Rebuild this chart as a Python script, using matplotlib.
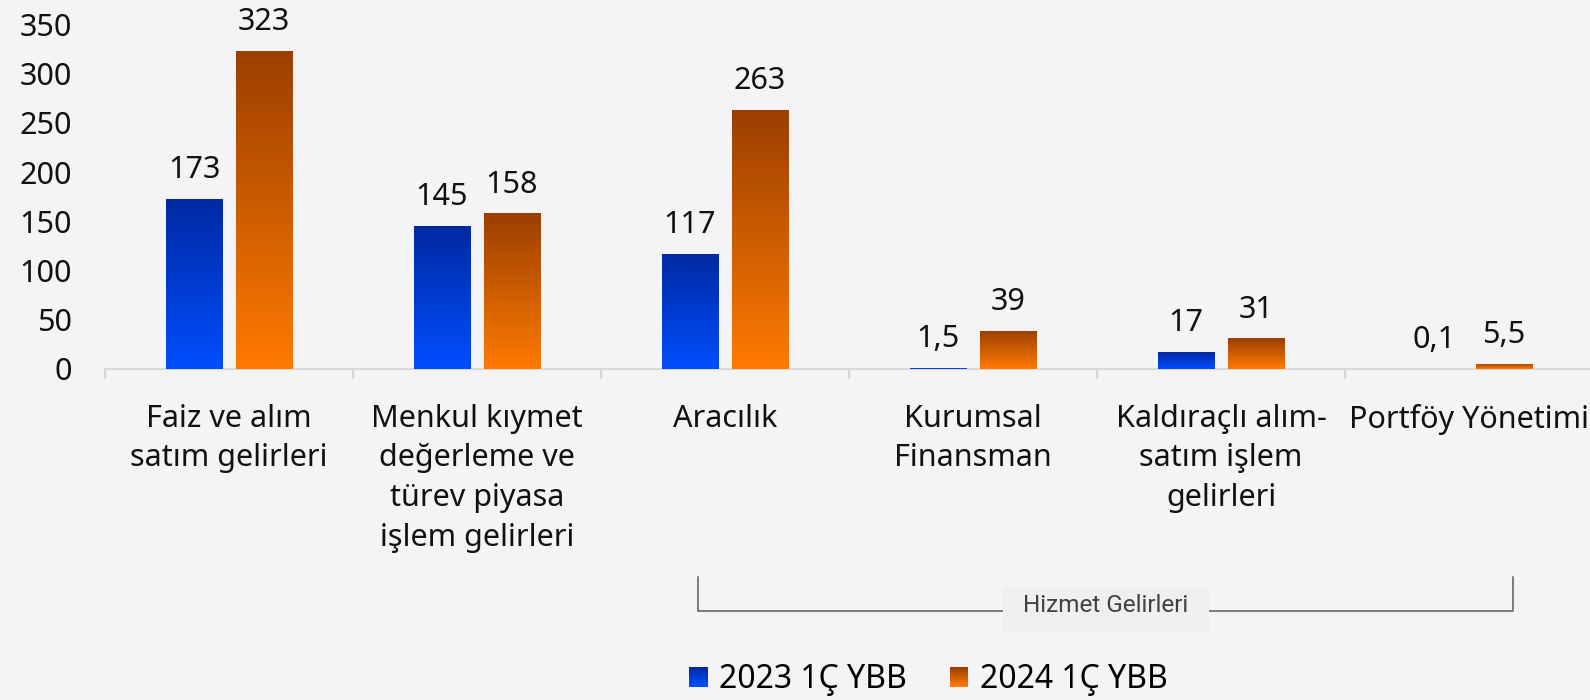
import numpy as np
import matplotlib.pyplot as plt
from matplotlib.colors import LinearSegmentedColormap
from matplotlib.patches import Rectangle
from matplotlib.legend_handler import HandlerPatch
from matplotlib.transforms import blended_transform_factory

# data
categories = ['Faiz ve alım\nsatım gelirleri',
              'Menkul kıymet\ndeğerleme ve\ntürev piyasa\nişlem gelirleri',
              'Aracılık',
              'Kurumsal\nFinansman',
              'Kaldıraçlı alım-\nsatım işlem\ngelirleri',
              'Portföy Yönetimi']
v2023 = [173, 145, 117, 1.5, 17, 0.1]
v2024 = [323, 158, 263, 39, 31, 5.5]
lbl2023 = ['173', '145', '117', '1,5', '17', '0,1']
lbl2024 = ['323', '158', '263', '39', '31', '5,5']
series_names = ['2023 1Ç YBB', '2024 1Ç YBB']
group_label = 'Hizmet Gelirleri'

plt.rcParams['font.family'] = ['Noto Sans', 'DejaVu Sans']

bg = '#F4F4F6'
blue_cm = LinearSegmentedColormap.from_list('blue', ['#004EFF', '#0029A2'])
orange_cm = LinearSegmentedColormap.from_list('orange', ['#FF7A00', '#9B3F00'])

fig = plt.figure(figsize=(15.9, 7), dpi=100, facecolor=bg)
ax = fig.add_axes([105 / 1590, 331 / 700, 1488 / 1590, 344.6 / 700])
ax.set_facecolor(bg)

index = np.arange(len(categories))
bar_width = 0.226
offset = 0.141

bars1 = ax.bar(index - offset, v2023, bar_width, zorder=3, color='#0045F0')
bars2 = ax.bar(index + offset, v2024, bar_width, zorder=3, color='#E06800')


def grad_fill(bars, cmap):
    g = np.linspace(0, 1, 256).reshape(-1, 1)
    for b in bars:
        x0, y0 = b.get_x(), b.get_y()
        w, h = b.get_width(), b.get_height()
        im = ax.imshow(g, cmap=cmap, extent=[x0, x0 + w, y0, y0 + h],
                       origin='lower', aspect='auto', zorder=3.1)
        im.set_clip_path(b)


grad_fill(bars1, blue_cm)
grad_fill(bars2, orange_cm)

for bars, labels in ((bars1, lbl2023), (bars2, lbl2024)):
    for b, t in zip(bars, labels):
        ax.annotate(t, (b.get_x() + b.get_width() / 2, b.get_height()),
                    xytext=(0, 15), textcoords='offset points',
                    ha='center', va='baseline', fontsize=22, color='#111111')

ax.set_xlim(-0.5, len(categories) - 0.5)
ax.set_ylim(0, 350)
ax.set_yticks(np.arange(0, 351, 50))
ax.tick_params(axis='y', length=0, pad=24, labelsize=22, labelcolor='#111111')

ax.set_xticks(index)
ax.set_xticklabels(categories, fontsize=22, color='#111111', linespacing=1.42)
ax.set_xticks(np.arange(-0.5, len(categories)), minor=True)
ax.tick_params(axis='x', which='major', length=0, pad=25)
ax.tick_params(axis='x', which='minor', length=7, width=1.5, color='#D6D6D6')

for s in ('left', 'top', 'right'):
    ax.spines[s].set_visible(False)
ax.spines['bottom'].set_color('#D9D9D9')
ax.spines['bottom'].set_linewidth(1.5)
ax.spines['bottom'].set_zorder(1)

# bracket under service income categories
tr = blended_transform_factory(ax.transData, fig.transFigure)
xl, xr = 1.891, 5.177
y_top, y_line = 1 - 577 / 700, 1 - 611 / 700
ax.plot([xl, xl, xr, xr], [y_top, y_line, y_line, y_top], transform=tr,
        color='#5A5A5A', lw=1.1, clip_on=False, solid_joinstyle='round')
bx0, bx1 = 3.121, 3.952
ax.add_patch(Rectangle((bx0, 1 - 632 / 700), bx1 - bx0, 45 / 700, transform=tr,
                       facecolor='#EFEFEF', edgecolor='none', clip_on=False, zorder=4))
ax.text((bx0 + bx1) / 2, 1 - 606 / 700, group_label, transform=tr,
        ha='center', va='center', fontsize=17.5, color='#404040', zorder=5,
        family=['Roboto', 'DejaVu Sans'])


class GradHandler(HandlerPatch):
    def __init__(self, cmap):
        super().__init__()
        self.cmap = cmap

    def create_artists(self, legend, orig_handle, xdescent, ydescent,
                       width, height, fontsize, trans):
        n = 12
        arts = []
        for i in range(n):
            r = Rectangle((-xdescent, -ydescent + height * i / n), width,
                          height / n + 0.3, facecolor=self.cmap(i / (n - 1)),
                          edgecolor='none', transform=trans)
            arts.append(r)
        return arts


h1 = Rectangle((0, 0), 1, 1)
h2 = Rectangle((0, 0), 1, 1)
fig.legend([h1, h2], series_names, loc='center', bbox_to_anchor=(0.584, 0.029),
           ncol=2, frameon=False, fontsize=23, handlelength=0.57, handleheight=0.57,
           handletextpad=0.36, columnspacing=1.35,
           handler_map={h1: GradHandler(blue_cm), h2: GradHandler(orange_cm)})

fig.savefig('out.png', dpi=100, facecolor=bg)
